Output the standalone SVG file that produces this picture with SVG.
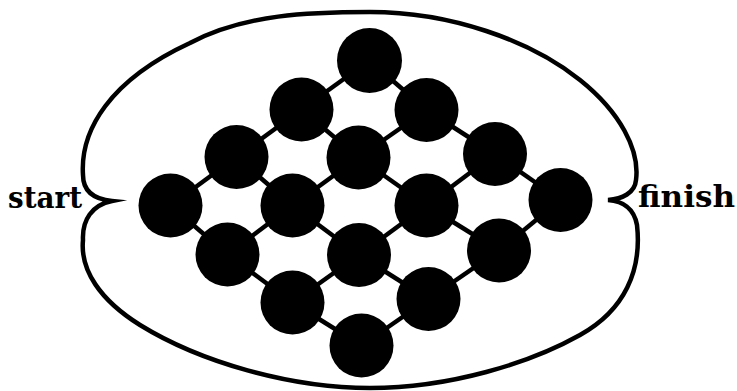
<svg xmlns="http://www.w3.org/2000/svg" width="737" height="391" viewBox="0 0 737 391">
<style>
.edge{stroke:#000;stroke-width:4.5;fill:none}
.node circle{fill:#000}
.outline{fill:none;stroke:#000;stroke-width:4.5;stroke-linejoin:miter;stroke-miterlimit:10}
.lbl{font-family:"DejaVu Serif","Liberation Serif",serif;font-weight:bold;font-size:30px;fill:#000}
</style>
<rect width="737" height="391" fill="#fff"/>
<g id="outline">
<path class="outline" d="M112,201 C92,199 83,190 83,175 C80,130 110,80 190,43 C245,14 310,12 370,12 C450,12 530,40 580,80 C620,112 640,150 636,180 C635,193 622,199 608,200 C622,201 634,208 637,225 C642,270 625,310 580,335 C530,363 450,388 370,388 C290,388 200,362 140,325 C100,300 80,270 83,240 C82,220 92,205 112,201 Z"/>
</g>
<g id="connectors">
<line class="edge" x1="170.5" y1="205.5" x2="236.5" y2="157"/>
<line class="edge" x1="236.5" y1="157" x2="301.5" y2="109.5"/>
<line class="edge" x1="301.5" y1="109.5" x2="369.5" y2="60.5"/>
<line class="edge" x1="227.5" y1="254.5" x2="292.5" y2="205.5"/>
<line class="edge" x1="292.5" y1="205.5" x2="358.5" y2="157.5"/>
<line class="edge" x1="358.5" y1="157.5" x2="426.5" y2="110"/>
<line class="edge" x1="292.5" y1="302.5" x2="359" y2="255"/>
<line class="edge" x1="359" y1="255" x2="426.5" y2="205.5"/>
<line class="edge" x1="426.5" y1="205.5" x2="495" y2="154"/>
<line class="edge" x1="361.5" y1="345.5" x2="428.5" y2="299"/>
<line class="edge" x1="428.5" y1="299" x2="499" y2="250.5"/>
<line class="edge" x1="499" y1="250.5" x2="560.5" y2="200"/>
<line class="edge" x1="170.5" y1="205.5" x2="227.5" y2="254.5"/>
<line class="edge" x1="227.5" y1="254.5" x2="292.5" y2="302.5"/>
<line class="edge" x1="292.5" y1="302.5" x2="361.5" y2="345.5"/>
<line class="edge" x1="236.5" y1="157" x2="292.5" y2="205.5"/>
<line class="edge" x1="292.5" y1="205.5" x2="359" y2="255"/>
<line class="edge" x1="359" y1="255" x2="428.5" y2="299"/>
<line class="edge" x1="301.5" y1="109.5" x2="358.5" y2="157.5"/>
<line class="edge" x1="358.5" y1="157.5" x2="426.5" y2="205.5"/>
<line class="edge" x1="426.5" y1="205.5" x2="499" y2="250.5"/>
<line class="edge" x1="369.5" y1="60.5" x2="426.5" y2="110"/>
<line class="edge" x1="426.5" y1="110" x2="495" y2="154"/>
<line class="edge" x1="495" y1="154" x2="560.5" y2="200"/>
</g>
<g id="n00" class="node"><circle cx="170.5" cy="205.5" r="32"/></g>
<g id="n10" class="node"><circle cx="236.5" cy="157" r="32"/></g>
<g id="n20" class="node"><circle cx="301.5" cy="109.5" r="32"/></g>
<g id="n30" class="node"><circle cx="369.5" cy="60.5" r="32.5"/></g>
<g id="n01" class="node"><circle cx="227.5" cy="254.5" r="32"/></g>
<g id="n11" class="node"><circle cx="292.5" cy="205.5" r="32"/></g>
<g id="n21" class="node"><circle cx="358.5" cy="157.5" r="32"/></g>
<g id="n31" class="node"><circle cx="426.5" cy="110" r="32"/></g>
<g id="n02" class="node"><circle cx="292.5" cy="302.5" r="32"/></g>
<g id="n12" class="node"><circle cx="359" cy="255" r="32"/></g>
<g id="n22" class="node"><circle cx="426.5" cy="205.5" r="32"/></g>
<g id="n32" class="node"><circle cx="495" cy="154" r="32"/></g>
<g id="n03" class="node"><circle cx="361.5" cy="345.5" r="32"/></g>
<g id="n13" class="node"><circle cx="428.5" cy="299" r="32"/></g>
<g id="n23" class="node"><circle cx="499" cy="250.5" r="32"/></g>
<g id="n33" class="node"><circle cx="560.5" cy="200" r="32"/></g>
<g id="label-start"><text class="lbl" x="8" y="208" textLength="74" lengthAdjust="spacingAndGlyphs">start</text></g>
<g id="label-finish"><text class="lbl" x="638" y="207" textLength="97" lengthAdjust="spacingAndGlyphs">finish</text></g>
</svg>
